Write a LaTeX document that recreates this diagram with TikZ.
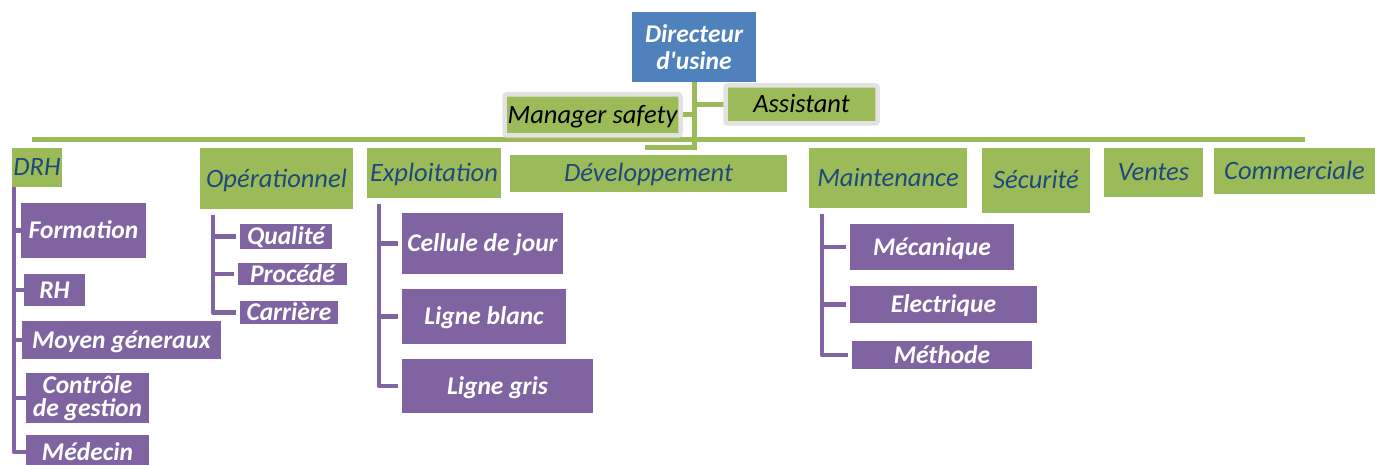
\documentclass[tikz,border=0pt]{standalone}
\usepackage{fontspec}
\setmainfont{Carlito}
\usepackage{tikz}
\usetikzlibrary{backgrounds}
\definecolor{chiefblue}{HTML}{4F81BD}
\definecolor{deptgreen}{HTML}{9BBB59}
\definecolor{deptblue}{HTML}{1F497D}
\definecolor{unitpurple}{HTML}{8064A2}
\definecolor{staffgrey}{HTML}{E2E2E2}
\pgfdeclarelayer{edgelayer}
\pgfdeclarelayer{nodelayer}
\pgfsetlayers{edgelayer,nodelayer,main}
\tikzstyle{none}=[inner sep=0pt]
\tikzstyle{chief}=[rectangle,fill=chiefblue,text=white,align=center,inner sep=0pt,font=\bfseries\itshape\fontsize{25.5}{27}\selectfont]
\tikzstyle{dept}=[rectangle,fill=deptgreen,text=deptblue,inner sep=0pt,text height=17pt,text depth=0pt,font=\itshape\fontsize{26.5}{28}\selectfont]
\tikzstyle{staff}=[dept,text=black,draw=staffgrey,line width=4.5pt,rounded corners=2pt]
\tikzstyle{unit}=[rectangle,fill=unitpurple,text=white,inner sep=0pt,text height=16.5pt,text depth=0pt,font=\bfseries\itshape\fontsize{25.5}{25}\selectfont]
\tikzstyle{unitpair}=[rectangle,fill=unitpurple,text=white,inner sep=0pt,align=center,font=\bfseries\itshape\fontsize{25.5}{23}\selectfont]
\tikzstyle{trunk}=[-,draw=deptgreen,line width=5pt,line cap=rect]
\tikzstyle{branch}=[-,draw=unitpurple,line width=4.5pt,line join=round,shorten >=4pt]

\begin{document}
\begin{tikzpicture}[x=1pt,y=-1pt]
	\useasboundingbox (0,0) rectangle (1375,465);
	\begin{pgfonlayer}{nodelayer}
		\node [style=chief, minimum width=124, minimum height=70] (dir) at (694, 47) {Directeur\\d\textquotesingle usine};
		\node [style=staff, minimum width=176, minimum height=41] (safety) at (592.5, 115) {Manager safety};
		\node [style=staff, minimum width=152, minimum height=38] (assist) at (801.5, 104.5) {Assistant};

		% services under the director
		\node [style=dept, minimum width=50, minimum height=39] (DRH) at (37, 167.5) {DRH};
		\node [style=dept, minimum width=153, minimum height=61] (Oper) at (276.5, 178.5) {Opérationnel};
		\node [style=dept, minimum width=134, minimum height=50] (Expl) at (434, 173) {Exploitation};
		\node [style=dept, minimum width=277, minimum height=37] (Dev) at (648.5, 173.5) {Développement};
		\node [style=dept, minimum width=158, minimum height=60] (Maint) at (888, 178) {Maintenance};
		\node [style=dept, minimum width=108, minimum height=65] (Secu) at (1036, 180.5) {Sécurité};
		\node [style=dept, minimum width=99, minimum height=49] (Ventes) at (1153.5, 172.5) {Ventes};
		\node [style=dept, minimum width=161, minimum height=46] (Comm) at (1294.5, 171) {Commerciale};

		\node [style=unit, minimum width=125, minimum height=55] (Formation) at (83.5, 230.5) {Formation};
		\node [style=unit, minimum width=61, minimum height=32] (RH) at (54.5, 290) {RH};
		\node [style=unit, minimum width=199, minimum height=38] (Moyen) at (121.5, 340) {Moyen géneraux};
		\node [style=unitpair, minimum width=123, minimum height=50] (Controle) at (87.5, 398) {Contrôle\\de gestion};
		\node [style=unit, minimum width=123, minimum height=34] (Medecin) at (87.5, 452) {Médecin};

		\node [style=unit, minimum width=92, minimum height=25] (Qualite) at (286, 236.5) {Qualité};
		\node [style=unit, minimum width=109, minimum height=22] (Procede) at (292.5, 274) {Procédé};
		\node [style=unit, minimum width=98, minimum height=23] (Carriere) at (289, 312.5) {Carrière};

		\node [style=unit, minimum width=161, minimum height=61] (Cellule) at (482.5, 243.5) {Cellule de jour};
		\node [style=unit, minimum width=164, minimum height=55] (Blanc) at (484, 316.5) {Ligne blanc};
		\node [style=unit, minimum width=191, minimum height=54] (Gris) at (497.5, 386) {Ligne gris};

		\node [style=unit, minimum width=164, minimum height=46] (Meca) at (932, 247) {Mécanique};
		\node [style=unit, minimum width=187, minimum height=37] (Elec) at (943.5, 304.5) {Electrique};
		\node [style=unit, minimum width=180, minimum height=28] (Meth) at (942, 355) {Méthode};

		\node [style=none] (Vb) at (694, 148) {};
		\node [style=none] (Ek) at (647, 148) {};
		\node [style=none] (Hl) at (34, 140) {};
		\node [style=none] (Hr) at (1302, 140) {};

		\node [style=none] (DRHt) at (14, 185) {};
		\node [style=none] (Opt) at (213, 215) {};
		\node [style=none] (Ext) at (379, 204) {};
		\node [style=none] (Mat) at (822, 214) {};
	\end{pgfonlayer}
	\begin{pgfonlayer}{edgelayer}
		\draw [style=trunk] (dir) to (Vb.center);
		\draw [style=trunk] (Ek.center) to (Vb.center);
		\draw [style=trunk] (safety) to (safety -| Vb);
		\draw [style=trunk] (Vb |- assist) to (assist);
		\draw [style=trunk] (Hl.center) to (Hr.center);

		\draw [style=branch, shorten >=0pt] (DRHt.center) |- (Medecin.west);
		\draw [style=branch, shorten >=0pt] (Formation.west -| DRHt) to (Formation.west);
		\draw [style=branch, shorten >=0pt] (RH.west -| DRHt) to (RH.west);
		\draw [style=branch, shorten >=0pt] (Moyen.west -| DRHt) to (Moyen.west);
		\draw [style=branch, shorten >=0pt] (Controle.west -| DRHt) to (Controle.west);

		\draw [style=branch] (Opt.center) |- (Carriere.west);
		\draw [style=branch] (Qualite.west -| Opt) to (Qualite.west);
		\draw [style=branch] (Procede.west -| Opt) to (Procede.west);

		\draw [style=branch] (Ext.center) |- (Gris.west);
		\draw [style=branch] (Cellule.west -| Ext) to (Cellule.west);
		\draw [style=branch] (Blanc.west -| Ext) to (Blanc.west);

		\draw [style=branch] (Mat.center) |- (Meth.west);
		\draw [style=branch] (Meca.west -| Mat) to (Meca.west);
		\draw [style=branch] (Elec.west -| Mat) to (Elec.west);
	\end{pgfonlayer}
\end{tikzpicture}
\end{document}
